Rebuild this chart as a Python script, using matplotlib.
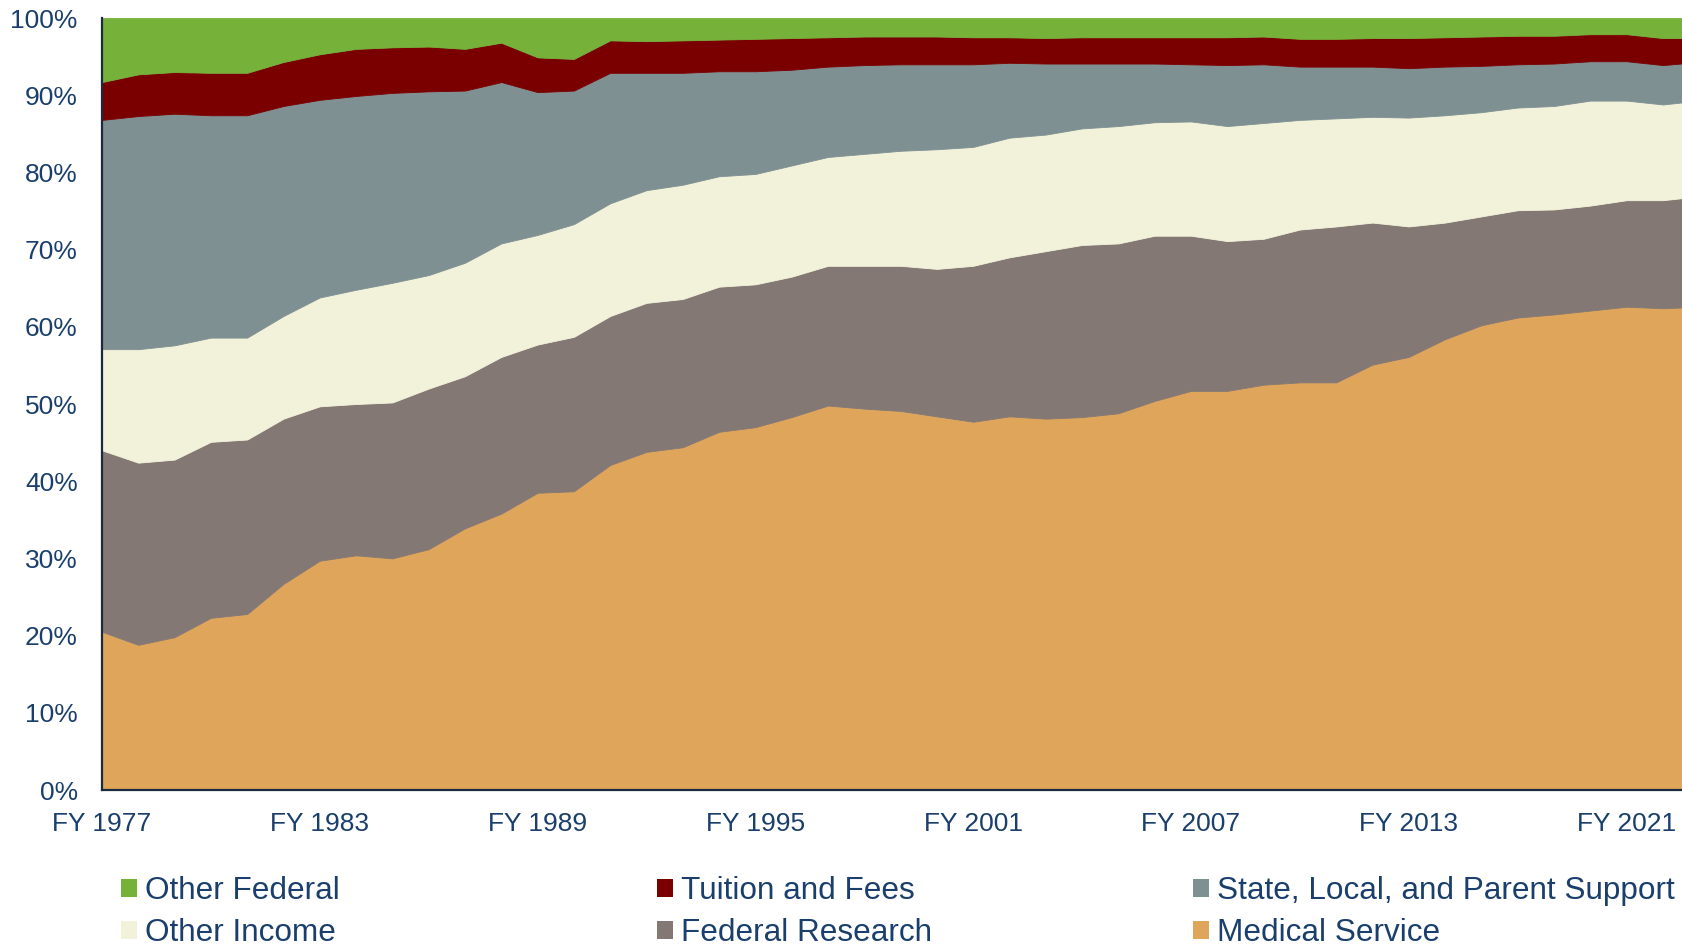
import matplotlib
matplotlib.use("Agg")
import matplotlib.pyplot as plt
from matplotlib.patches import Patch
import numpy as np

plt.rcParams['font.family'] = ['Liberation Sans', 'DejaVu Sans']

years = list(range(1977, 2014)) + [2015, 2016, 2017, 2019, 2020, 2021, 2022, 2023]
tick_years = [1977, 1983, 1989, 1995, 2001, 2007, 2013, 2021]

medical_service = [20.5, 18.8, 19.8, 22.3, 22.8, 26.7, 29.7, 30.4, 30.0, 31.2,
                   33.9, 35.8, 38.5, 38.7, 42.1, 43.8, 44.4, 46.4, 47.0, 48.3,
                   49.8, 49.4, 49.1, 48.4, 47.7, 48.4, 48.1, 48.3, 48.8, 50.4,
                   51.7, 51.7, 52.5, 52.8, 52.8, 55.1, 56.1, 58.4, 60.2, 61.2,
                   61.6, 62.1, 62.6, 62.4, 62.6]
federal_research = [23.5, 23.6, 23.0, 22.8, 22.6, 21.4, 20.0, 19.6, 20.2, 20.8,
                    19.7, 20.3, 19.2, 20.0, 19.3, 19.3, 19.2, 18.8, 18.5, 18.2,
                    18.1, 18.5, 18.8, 19.1, 20.2, 20.6, 21.7, 22.3, 22.0, 21.4,
                    20.1, 19.4, 18.9, 19.8, 20.2, 18.4, 16.9, 15.1, 14.1, 13.9,
                    13.6, 13.6, 13.8, 14.0, 14.3]
other_income = [13.1, 14.7, 14.8, 13.5, 13.2, 13.3, 14.1, 14.8, 15.5, 14.7,
                14.7, 14.7, 14.2, 14.6, 14.6, 14.6, 14.8, 14.3, 14.3, 14.4,
                14.1, 14.5, 14.9, 15.5, 15.4, 15.5, 15.1, 15.1, 15.2, 14.7,
                14.8, 14.9, 15.0, 14.2, 14.0, 13.7, 14.1, 13.9, 13.5, 13.3,
                13.4, 13.6, 12.9, 12.4, 12.4]
state_local_parent = [29.7, 30.2, 30.0, 28.8, 28.8, 27.2, 25.6, 25.1, 24.6, 23.8,
                      22.3, 20.9, 18.5, 17.3, 16.9, 15.2, 14.5, 13.6, 13.3, 12.4,
                      11.7, 11.5, 11.2, 11.0, 10.7, 9.7, 9.2, 8.4, 8.1, 7.6,
                      7.4, 7.9, 7.6, 6.9, 6.7, 6.5, 6.4, 6.3, 6.0, 5.6,
                      5.5, 5.1, 5.1, 5.1, 5.0]
tuition_fees = [4.9, 5.4, 5.4, 5.5, 5.5, 5.7, 5.9, 6.1, 5.9, 5.8,
                5.4, 5.1, 4.5, 4.1, 4.2, 4.1, 4.2, 4.1, 4.2, 4.1,
                3.8, 3.7, 3.6, 3.6, 3.5, 3.3, 3.3, 3.4, 3.4, 3.4,
                3.5, 3.6, 3.6, 3.6, 3.6, 3.7, 3.9, 3.8, 3.8, 3.7,
                3.6, 3.5, 3.5, 3.5, 3.1]
other_federal = [8.3, 7.3, 7.0, 7.1, 7.1, 5.7, 4.7, 4.0, 3.8, 3.7,
                 4.0, 3.2, 5.1, 5.3, 2.9, 3.0, 2.9, 2.8, 2.7, 2.6,
                 2.5, 2.4, 2.4, 2.4, 2.5, 2.5, 2.6, 2.5, 2.5, 2.5,
                 2.5, 2.5, 2.4, 2.7, 2.7, 2.6, 2.6, 2.5, 2.4, 2.3,
                 2.3, 2.1, 2.1, 2.6, 2.6]

series_names = ["Medical Service", "Federal Research", "Other Income",
                "State, Local, and Parent Support", "Tuition and Fees", "Other Federal"]
colors = ["#DFA65B", "#837873", "#F2F2DA", "#7F9093", "#7A0000", "#76B13A"]
text_color = "#1A3F6C"

x = np.arange(len(years))
data = [medical_service, federal_research, other_income,
        state_local_parent, tuition_fees, other_federal]

fig = plt.figure(figsize=(16.83, 9.44), dpi=100)
ax = fig.add_axes([102/1683, 1 - 790/944, 1 - 102/1683, (790 - 18)/944])

polys = ax.stackplot(x, *data, colors=colors, labels=series_names,
                     edgecolor='face', linewidth=0.6)

ax.set_xlim(0, (1683 - 102) / 36.3)
ax.set_ylim(0, 100)

ax.set_yticks(np.arange(0, 101, 10))
ax.set_yticklabels([f"{v}%" for v in range(0, 101, 10)])
tick_pos = [years.index(y) for y in tick_years]
ax.set_xticks(tick_pos)
ax.set_xticklabels([f"FY {y}" for y in tick_years])

ax.tick_params(axis='y', length=0, pad=17.5, labelsize=19, labelcolor=text_color)
ax.tick_params(axis='x', length=0, pad=16, labelsize=19, labelcolor=text_color)

for s in ['top', 'right']:
    ax.spines[s].set_visible(False)
for s in ['left', 'bottom']:
    ax.spines[s].set_color("#1B2A3F")
    ax.spines[s].set_linewidth(1.6)
ax.set_axisbelow(False)

handles = {name: Patch(facecolor=c, edgecolor='none') for name, c in zip(series_names, colors)}
columns = [
    (["Other Federal", "Other Income"], 121),
    (["Tuition and Fees", "Federal Research"], 657),
    (["State, Local, and Parent Support", "Medical Service"], 1193),
]
for names, xpx in columns:
    leg = fig.legend([handles[n] for n in names], names, loc='upper left',
                     bbox_to_anchor=(xpx / 1683, 1 - 876 / 944),
                     frameon=False, fontsize=22.7, handlelength=0.5, handleheight=0.5,
                     handletextpad=0.25, labelspacing=0.38, borderaxespad=0,
                     borderpad=0)
    for t in leg.get_texts():
        t.set_color(text_color)

fig.savefig("out.png", dpi=100)
